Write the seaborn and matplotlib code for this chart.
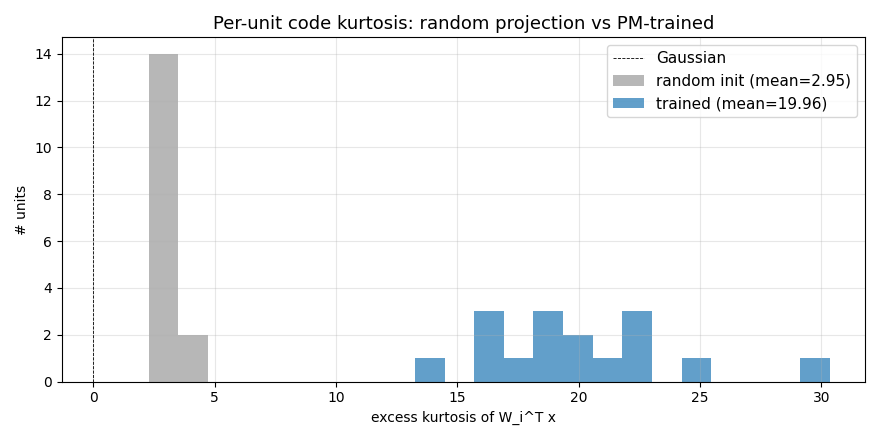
import numpy as np
import matplotlib
matplotlib.use("Agg")
import matplotlib.pyplot as plt
import seaborn as sns

# excess kurtosis per unit
random_kurt = [2.4, 2.5, 2.6, 2.7, 2.7, 2.8, 2.8, 2.9, 2.9, 3.0, 3.0, 3.1, 3.2, 3.0,
               3.7, 3.9]
trained_kurt = [14.0, 16.2, 16.5, 16.8, 17.5, 18.5, 18.9, 19.0, 19.8, 20.1,
                21.0, 22.0, 22.3, 22.6, 24.9, 29.3]

bins = np.linspace(2.27, 30.34, 24)

fig, ax = plt.subplots(figsize=(8.8, 4.4), dpi=100)
sns.histplot(random_kurt, bins=bins, color="#999999", alpha=0.7, edgecolor=None,
             linewidth=0, ax=ax,
             label="random init (mean={:.2f})".format(np.mean(random_kurt)))
sns.histplot(trained_kurt, bins=bins, color="tab:blue", alpha=0.7, edgecolor=None,
             linewidth=0, ax=ax,
             label="trained (mean={:.2f})".format(np.mean(trained_kurt)))
ax.axvline(0, color="black", linestyle="--", linewidth=0.6, label="Gaussian")

ax.set_xlim(-1.3, 31.8)
ax.set_xlabel("excess kurtosis of W_i^T x")
ax.set_ylabel("# units")
ax.set_title("Per-unit code kurtosis: random projection vs PM-trained", fontsize=13)
ax.grid(True, alpha=0.3)
ax.legend(loc="upper right", fontsize=11)
fig.tight_layout()
fig.savefig("out.png")
